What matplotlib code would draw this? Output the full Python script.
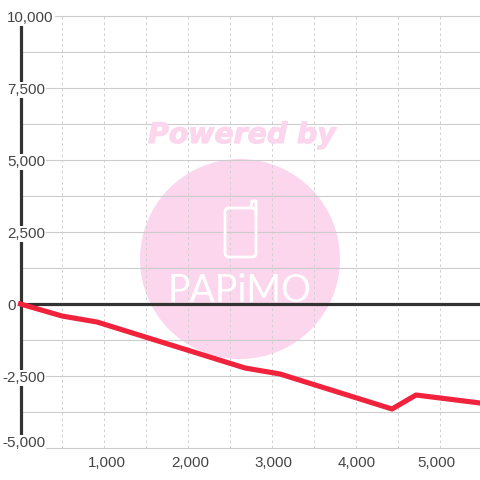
import matplotlib.pyplot as plt
import matplotlib.patheffects as pe
from matplotlib.patches import Circle, FancyBboxPatch
from matplotlib.transforms import IdentityTransform, ScaledTranslation

# ---------- data ----------
line_x = [0, 495, 913, 2679, 3097, 4433, 4719, 5483]
line_y = [0, -417, -625, -2222, -2431, -3646, -3160, -3437]

x_major = [1000, 2000, 3000, 4000, 5000]
x_labels = ['1,000', '2,000', '3,000', '4,000', '5,000']
x_minor = [500, 1500, 2500, 3500, 4500]

y_major = [10000, 7500, 5000, 2500, 0, -2500, -5000]
y_labels = ['10,000', '7,500', '5,000', '2,500', '0', '-2,500', '-5,000']
y_minor = [8750, 6250, 3750, 1250, -1250, -3750]

TEXT = '#444444'
GRID = '#cccccc'
DARK = '#333333'
RED = '#f0223c'
PINK = '#fbd6ec'

plt.rcParams['font.family'] = ['Liberation Sans', 'DejaVu Sans']

fig = plt.figure(figsize=(4.8, 4.8), dpi=100)
ax = fig.add_axes([20.5 / 480, 32 / 480, 459.5 / 480, 432 / 480])
ax.set_xlim(0, 5483)
ax.set_ylim(-5000, 10000)

# ---------- grid ----------
ax.set_xticks(x_major, x_labels)
ax.set_xticks(x_minor, minor=True)
ax.set_yticks(y_major, [''] * len(y_major))
ax.set_yticks(y_minor, minor=True)
ax.tick_params(which='both', length=0)
ax.tick_params(axis='x', labelsize=10.9, labelcolor=TEXT, pad=5.5)
ax.grid(axis='x', which='both', color='#d0d0d0', lw=0.72, ls=(0, (2.5, 3)), zorder=1)
ax.grid(axis='y', which='both', color=GRID, lw=0.8, zorder=1)
ax.set_axisbelow(True)
for ln in ax.get_xgridlines() + ax.get_ygridlines():
    ln.set_clip_on(False)

# labels sit a little off their gridlines in the original
for lab, shift in zip(ax.get_xticklabels(), [3, 2, 1, 1, -3]):
    lab.set_transform(lab.get_transform() + ScaledTranslation(shift / 100, 0, fig.dpi_scale_trans))

for side in ['top', 'right', 'bottom']:
    ax.spines[side].set_visible(False)
ax.spines['left'].set_color(DARK)
ax.spines['left'].set_linewidth(2.3)

# ---------- watermark ----------
px = IdentityTransform()
ax.add_patch(Circle((240, 480 - 259), 100, transform=px, fc=PINK, ec='none', zorder=0.5, clip_on=False))
ax.add_patch(FancyBboxPatch((225, 480 - 257), 31, 49, boxstyle='round,pad=0,rounding_size=4', transform=px,
                            fc='none', ec='white', lw=2, zorder=0.6, clip_on=False))
ax.plot([251, 252, 256, 256], [480 - 207, 480 - 201, 480 - 201, 480 - 215], transform=px,
        color='white', lw=2, zorder=0.6, clip_on=False, solid_joinstyle='round')
pw = fig.text(242 / 480, 1 - 135 / 480, 'Powered by', family='DejaVu Sans', weight='bold', style='italic',
              size=20.4, color=PINK, ha='center', va='center', zorder=0.5)
pw.set_path_effects([pe.withStroke(linewidth=0.8, foreground=PINK)])
ax.text(240, 480 - 291, 'PAPiMO', transform=px, family='Lato', size=27, color='white',
        ha='center', va='center', zorder=0.6)

# ---------- zero line, series ----------
ax.axhline(0, xmin=0.017, color=DARK, lw=2.3, zorder=2.2)
ax.plot(line_x, line_y, color=RED, lw=3.7, zorder=4, clip_on=False, solid_joinstyle='round')

# ---------- y labels with white boxes that interrupt the axis ----------
for val, lab in zip(y_major, y_labels):
    dy = 5 if val == -5000 else -2
    dx = -18.5 if val < 0 else -13.5
    ax.annotate(lab, xy=(0, val), xycoords=ax.get_yaxis_transform(), xytext=(dx, dy), textcoords='offset pixels',
                ha='left', va='center', fontsize=10.9, color=TEXT, zorder=3,
                bbox=dict(fc='white', ec='none', pad=1.0))

fig.savefig('out.png', dpi=100)
